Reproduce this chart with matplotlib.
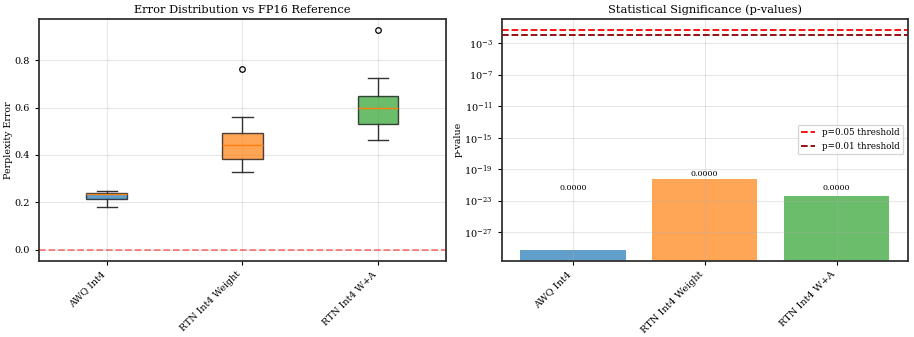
import matplotlib
matplotlib.use('Agg')
import matplotlib.pyplot as plt
import numpy as np

methods = ['AWQ Int4', 'RTN Int4 Weight', 'RTN Int4 W+A']
colors = ['#1f77b4', '#ff7f0e', '#2ca02c']

# box statistics
q1 = [0.214, 0.383, 0.530]
med = [0.237, 0.441, 0.599]
q3 = [0.241, 0.492, 0.651]
whislo = [0.182, 0.328, 0.463]
whishi = [0.249, 0.561, 0.724]
fliers = [[], [0.762], [0.929]]

p_values = [5.6e-30, 6.5e-21, 3.7e-23]
label_floor = 1e-22

plt.rcParams['font.family'] = 'DejaVu Serif'
plt.rcParams['axes.edgecolor'] = '#333333'
plt.rcParams['axes.linewidth'] = 1.3

fig = plt.figure(figsize=(9.14, 3.37), dpi=100)
ax1 = fig.add_axes([39/914, 1-260.7/337, (445.7-39)/914, (260.7-18.7)/337])
ax2 = fig.add_axes([501.7/914, 1-260.5/337, (907.7-501.7)/914, (260.5-18.7)/337])

stats = []
for i in range(3):
    stats.append(dict(q1=q1[i], med=med[i], q3=q3[i], whislo=whislo[i],
                      whishi=whishi[i], fliers=fliers[i], label=methods[i]))
bp = ax1.bxp(stats, patch_artist=True,
             flierprops=dict(markersize=4, markeredgewidth=0.9))
for patch, c in zip(bp['boxes'], colors):
    patch.set_facecolor(c)
    patch.set_alpha(0.7)
for w in bp['whiskers'] + bp['caps']:
    w.set_color('#333333')
ax1.axhline(0, color='red', linestyle='--', alpha=0.5, linewidth=1.3)
ax1.set_title('Error Distribution vs FP16 Reference', fontsize=8.2, pad=4)
ax1.set_ylabel('Perplexity Error', fontsize=6.8, labelpad=1)
ax1.tick_params(labelsize=7, length=3)
ax1.set_xticks([1, 2, 3])
ax1.set_xticklabels(methods, rotation=45, ha='right', fontsize=6.8)
ax1.grid(True, alpha=0.3)

x = np.arange(len(methods))
bars = ax2.bar(x, p_values, color=colors, alpha=0.7)
ax2.set_yscale('log')
ax2.axhline(0.05, color='red', linestyle='--', label='p=0.05 threshold', linewidth=1.3)
ax2.axhline(0.01, color='darkred', linestyle='--', label='p=0.01 threshold', linewidth=1.3)
ax2.set_ylim(10**-30.56, 10**0.13)
ax2.set_yticks([10.0**e for e in range(-27, 0, 4)])
ax2.minorticks_off()
for b, p in zip(bars, p_values):
    ax2.text(b.get_x() + b.get_width()/2, max(p, label_floor) * 1.2, f'{p:.4f}',
             ha='center', va='bottom', fontsize=5.8)
ax2.set_title('Statistical Significance (p-values)', fontsize=8.2, pad=4)
ax2.set_ylabel('p-value', fontsize=6.8, labelpad=1)
ax2.set_xticks(x)
ax2.set_xticklabels(methods, rotation=45, ha='right', fontsize=6.8)
ax2.tick_params(labelsize=7, length=3)
ax2.legend(loc='center right', fontsize=6.3, handlelength=1.6)
ax2.grid(True, alpha=0.3)

fig.savefig('out.png', dpi=100)
